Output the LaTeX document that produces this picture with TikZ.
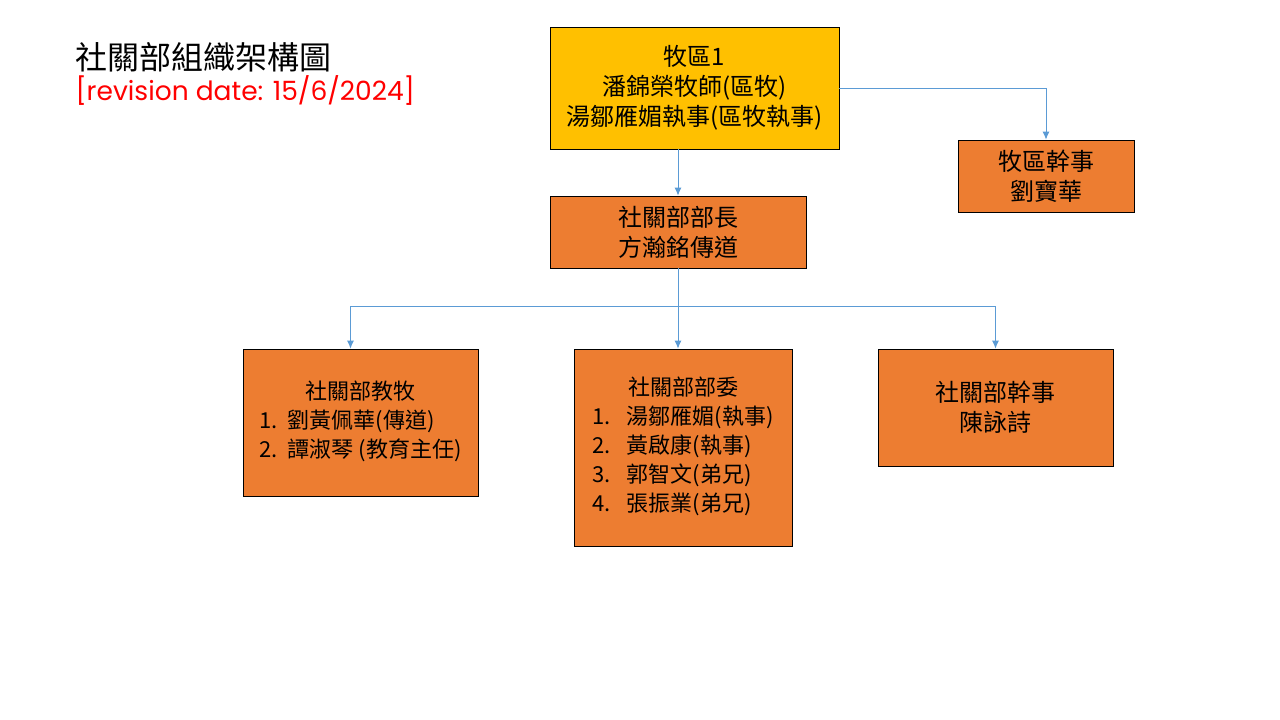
\documentclass[tikz,border=0pt]{standalone}
\usepackage{fontspec}
\setmainfont{Noto Sans CJK TC}
\newfontfamily\revfont{Poppins}
\usetikzlibrary{positioning,arrows.meta}
\definecolor{boxorange}{HTML}{ED7D31}
\definecolor{boxyellow}{HTML}{FFC000}
\definecolor{linkblue}{HTML}{5B9BD5}
\definecolor{revred}{HTML}{FF0000}
\begin{document}
\begin{tikzpicture}[x=1pt,y=-1pt,
    box/.style={draw=black,fill=boxorange,line width=0.8pt,inner sep=0pt,align=center,
                font=\fontsize{22}{29}\selectfont},
    bigbox/.style={box,font=\fontsize{24}{30}\selectfont},
    link/.style={draw=linkblue,line width=0.9pt,-{Latex[length=8pt,width=7pt]}}]
    \useasboundingbox (0,0) rectangle (1280,720);

    %title
    \node[anchor=base west,font=\fontsize{32}{36}\selectfont] (title) at (72,69) {社關部組織架構圖};
    \node[anchor=base west,font=\revfont\fontsize{26.5}{30}\selectfont,text=revred] (rev) at (72,100) {[revision date: 15/6/2024]};

    %boxes
    \node[bigbox,fill=boxyellow,minimum width=289pt,minimum height=122pt] (dist) at (694.5,88)
        {牧區1\\潘錦榮牧師(區牧)\\湯鄒雁媚執事(區牧執事)};
    \node[bigbox,minimum width=176pt,minimum height=72pt] (distsec) at (1046,176) {牧區幹事\\劉寶華};
    \node[bigbox,minimum width=256pt,minimum height=72pt] (head) at (678,232) {社關部部長\\方瀚銘傳道};
    \node[box,minimum width=235pt,minimum height=147pt] (past) at (360.5,422.5)
        {\begin{tabular}{@{}l@{\hspace{10pt}}l@{}}
         \multicolumn{2}{c}{社關部教牧}\\
         1. & 劉黃佩華(傳道)\\
         2. & 譚淑琴 (教育主任)
         \end{tabular}};
    \node[box,minimum width=218pt,minimum height=197pt] (comm) at (683,447.5)
        {\begin{tabular}{@{}l@{\hspace{16pt}}l@{}}
         \multicolumn{2}{c}{社關部部委}\\
         1. & 湯鄒雁媚(執事)\\
         2. & 黃啟康(執事)\\
         3. & 郭智文(弟兄)\\
         4. & 張振業(弟兄)
         \end{tabular}};
    \node[bigbox,minimum width=235pt,minimum height=117pt] (sec) at (995.5,407.5) {社關部幹事\\陳詠詩};

    %connectors
    \coordinate (bus) at (0,306);
    \draw[link] (head.north |- dist.south) -- (head.north);
    \draw[link] (dist.east) -- (dist.east -| distsec.north) -- (distsec.north);
    \draw[link] (head.south) -- (head.south |- bus) -| ([xshift=-10pt]past.north);
    \draw[link] (head.south |- bus) -| (sec.north);
    \draw[link] (head.south |- bus) -- (head.south |- comm.north);
\end{tikzpicture}
\end{document}
